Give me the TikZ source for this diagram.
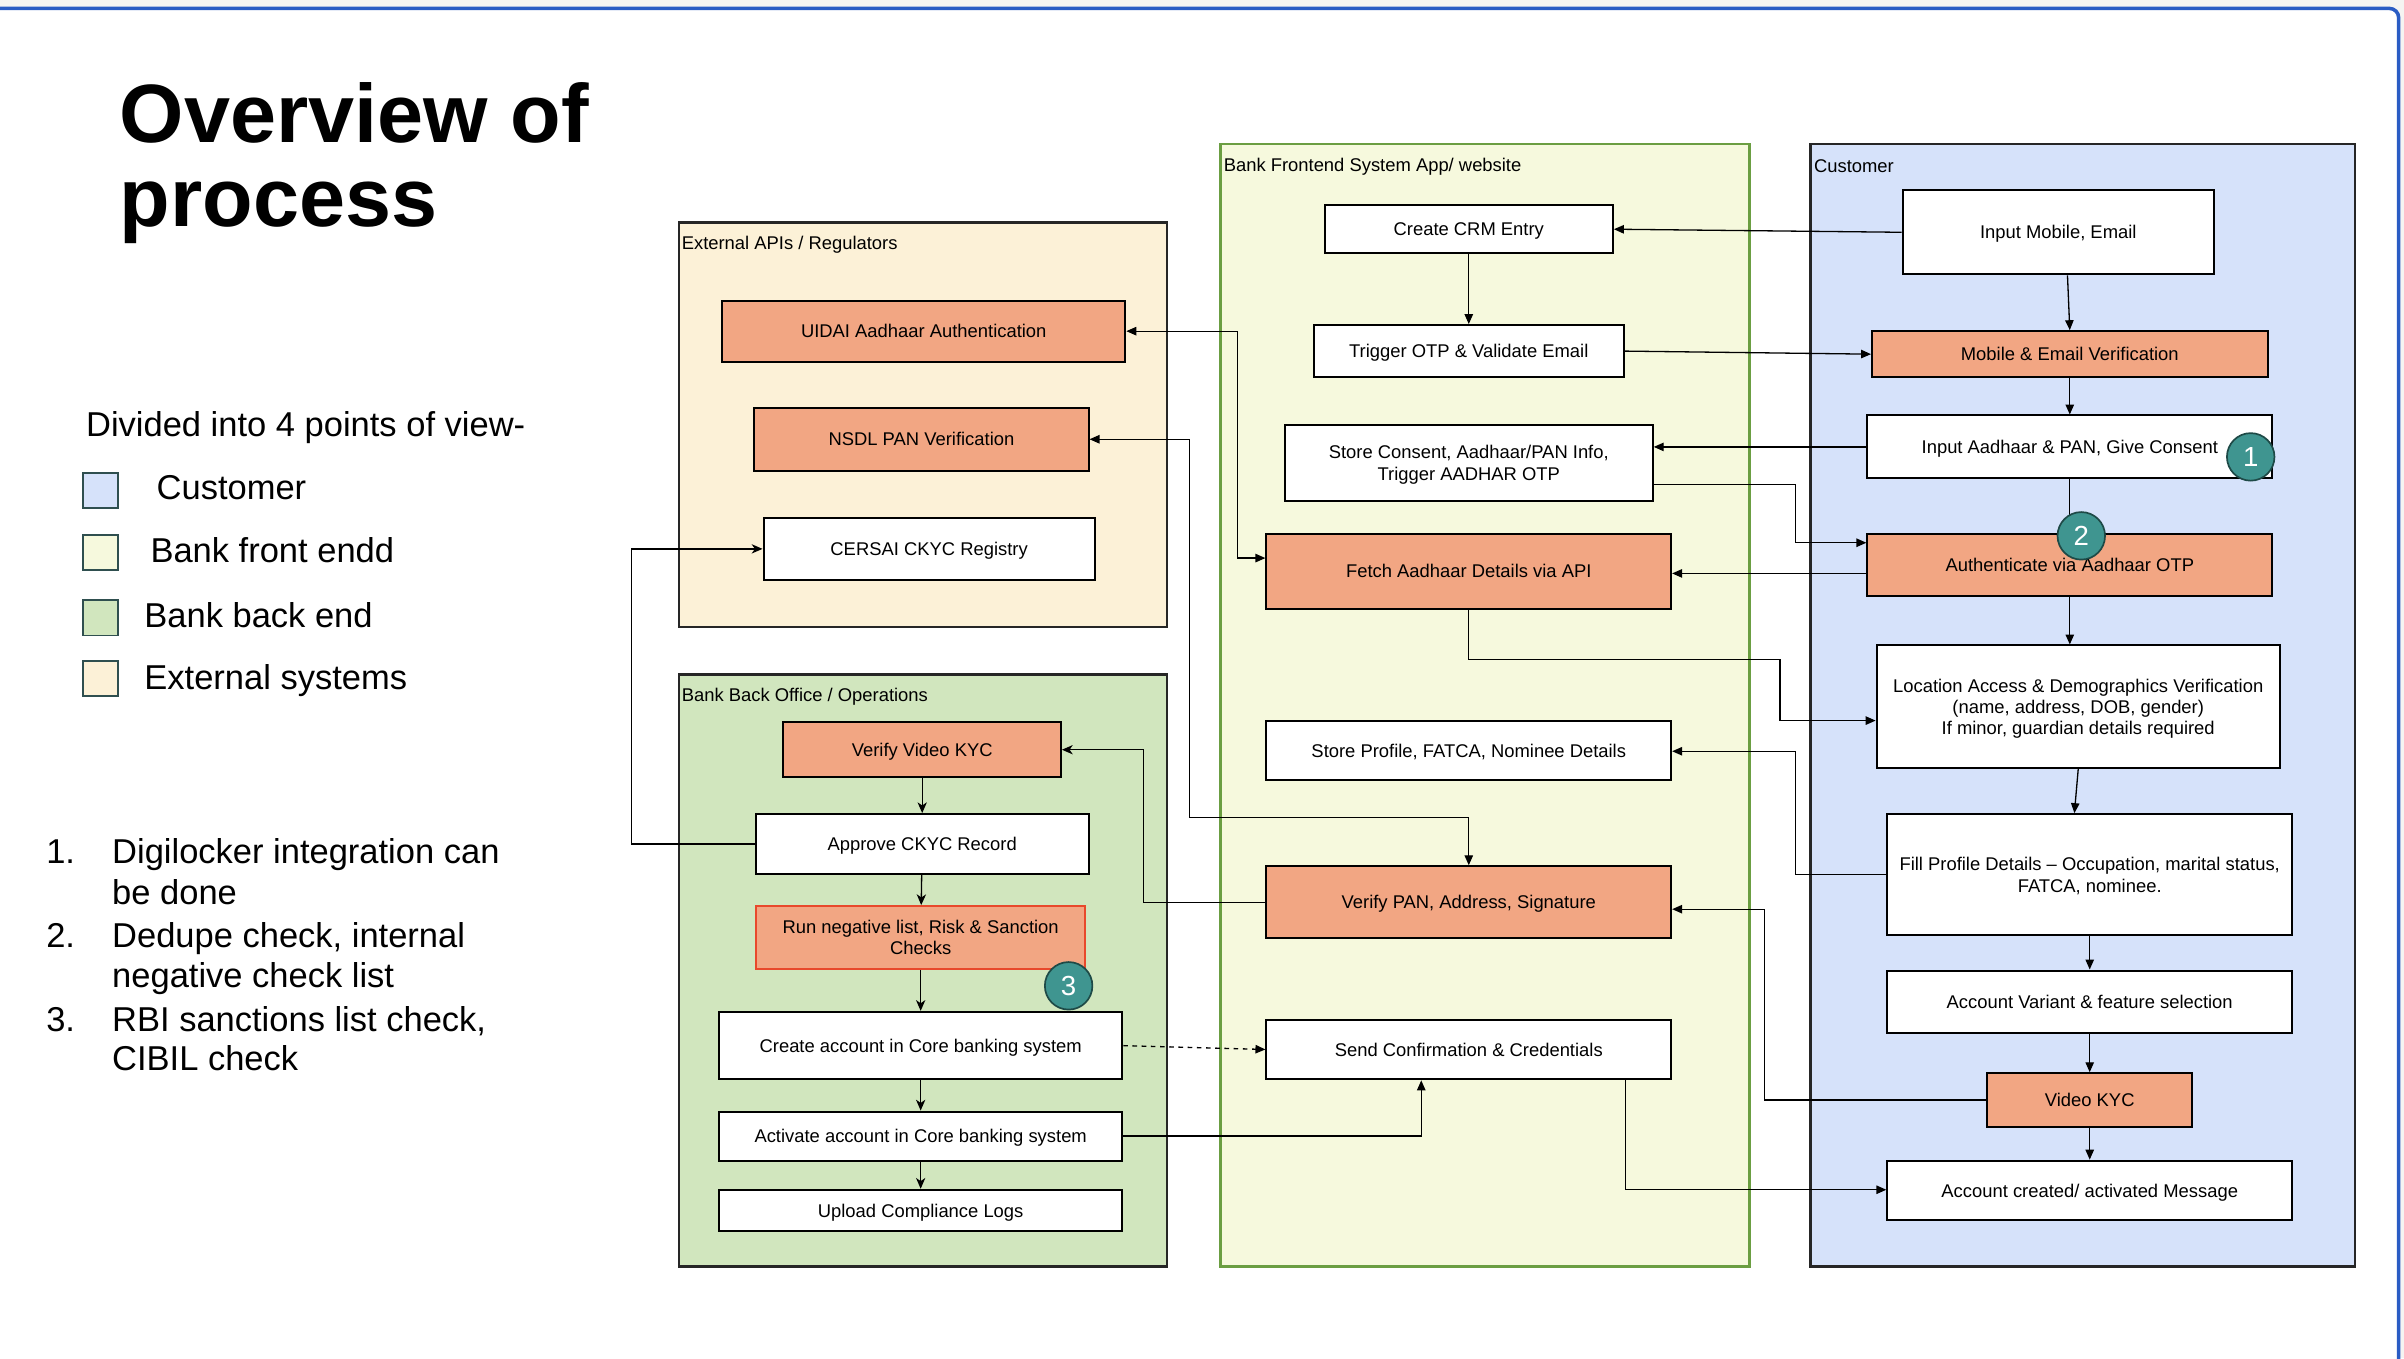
\documentclass[tikz,border=0pt]{standalone}
\usepackage{fontspec}
\setmainfont{Liberation Sans}
\usetikzlibrary{arrows.meta,calc}
\definecolor{salmon}{HTML}{F2A683}
\definecolor{redline}{HTML}{E8492B}
\definecolor{custblue}{HTML}{D6E2FA}
\definecolor{frontfill}{HTML}{F6F9DD}
\definecolor{frontline}{HTML}{6B9E42}
\definecolor{backfill}{HTML}{D1E6BE}
\definecolor{extfill}{HTML}{FCF1D7}
\definecolor{badgefill}{HTML}{3F9590}
\definecolor{badgeline}{HTML}{1E4A47}
\definecolor{frameblue}{HTML}{2A5CC4}
\definecolor{bandgrey}{HTML}{F5F4F2}
\definecolor{legline}{HTML}{2F4F4F}
\newcommand\bx[7]{\node[#6, minimum width={(#4-#2)*1pt}, minimum height={(#5-#3)*1pt}] (#1) at ({(#2+#4)/2},{(#3+#5)/2}) {#7};}
\begin{document}
\begin{tikzpicture}[x=1pt,y=-1pt,
  box/.style={draw=black, line width=1.3pt, fill=white, inner sep=1pt, align=center, text depth=0pt, font=\fontsize{12}{14}\selectfont},
  sbox/.style={box, fill=salmon},
  lane/.style={draw=black!85, line width=1.6pt},
  lanelabel/.style={anchor=west, inner sep=0, font=\fontsize{12}{14}\selectfont},
  arr/.style={draw=black, line width=0.85pt, -{Triangle[length=6.5pt,width=5.5pt]}},
  biarr/.style={draw=black, line width=0.85pt, {Triangle[length=6.5pt,width=5.5pt]}-{Triangle[length=6.5pt,width=5.5pt]}},
  carr/.style={draw=black, line width=0.85pt, -{Stealth[length=7pt,width=6pt,inset=2pt]}},
  badge/.style={circle, fill=badgefill, draw=badgeline, line width=1.1pt, minimum size=31pt, inner sep=0, text=white, font=\fontsize{18}{18}\selectfont},
  legsq/.style={draw=legline, line width=1.2pt, minimum size=23pt, inner sep=0},
  bigtxt/.style={anchor=base west, inner sep=0, font=\fontsize{22.5}{27}\selectfont}
]
\useasboundingbox (0,0) rectangle (1568,886);
\fill[bandgrey] (0,0) rectangle (1568,886);
\path[fill=white, draw=frameblue, line width=2.3pt, rounded corners=6pt] (-20,5.5) rectangle (1564.5,920);

% title
\node[anchor=base west, inner sep=0, font=\bfseries\fontsize{54}{54}\selectfont] (title1) at (78,93) {Overview of};
\node[anchor=base west, inner sep=0, font=\bfseries\fontsize{54}{54}\selectfont] (title2) at (78,148) {process};

% legend
\node[bigtxt] (legt) at (56,284.5) {Divided into 4 points of view-};
\node[legsq, fill=custblue] (lq1) at (65.5,320) {};
\node[legsq, fill=frontfill] (lq2) at (65.5,360.5) {};
\node[legsq, fill=backfill] (lq3) at (65.5,403) {};
\node[legsq, fill=extfill] (lq4) at (65.5,442.5) {};
\node[bigtxt] (l1) at (102,326) {Customer};
\node[bigtxt] (l2) at (98,367) {Bank front endd};
\node[bigtxt] (l3) at (94,409) {Bank back end};
\node[bigtxt] (l4) at (94,450) {External systems};

% notes
\node[bigtxt] (n1) at (30,563) {1.};
\node[bigtxt] (n1a) at (73,563) {Digilocker integration can};
\node[bigtxt] (n1b) at (73,590) {be done};
\node[bigtxt] (n2) at (30,618) {2.};
\node[bigtxt] (n2a) at (73,618) {Dedupe check, internal};
\node[bigtxt] (n2b) at (73,644) {negative check list};
\node[bigtxt] (n3) at (30,672.5) {3.};
\node[bigtxt] (n3a) at (73,672.5) {RBI sanctions list check,};
\node[bigtxt] (n3b) at (73,698.5) {CIBIL check};

% lanes
\draw[lane, fill=extfill] (443,145) rectangle (761,409);
\draw[lane, fill=backfill] (443,440) rectangle (761,826);
\draw[draw=frontline, line width=1.6pt, fill=frontfill] (796,94) rectangle (1141,826);
\draw[lane, fill=custblue] (1181,94) rectangle (1536,826);
\node[lanelabel] (lext) at (444.5,159.5) {External APIs / Regulators};
\node[lanelabel] (lback) at (444.5,454.5) {Bank Back Office / Operations};
\node[lanelabel] (lfront) at (798,108.5) {Bank Frontend System App/ website};
\node[lanelabel] (lcust) at (1183,108.5) {Customer};

% external
\bx{uidai}{471}{196}{734}{236}{sbox}{UIDAI Aadhaar Authentication}
\bx{nsdl}{492}{266}{710}{307}{sbox}{NSDL PAN Verification}
\bx{cersai}{498}{338}{714}{378}{box}{CERSAI CKYC Registry}

% back office
\bx{vvkyc}{511}{471}{692}{507}{sbox}{Verify Video KYC}
\bx{appr}{493}{531}{710}{570}{box}{Approve CKYC Record}
\bx{neg}{493}{591}{708}{632}{sbox, draw=redline}{Run negative list, Risk \& Sanction\\Checks}
\bx{create}{469}{660}{732}{704}{box}{Create account in Core banking system}
\bx{act}{469}{725}{732}{757}{box}{Activate account in Core banking system}
\bx{upl}{469}{776}{732}{803}{box}{Upload Compliance Logs}

% frontend
\bx{crm}{864}{134}{1052}{165}{box}{Create CRM Entry}
\bx{otp}{857}{212}{1059}{246}{box}{Trigger OTP \& Validate Email}
\bx{consent}{838}{277}{1078}{327}{box}{Store Consent, Aadhaar/PAN Info,\\Trigger AADHAR OTP}
\bx{fetch}{826}{348}{1090}{397}{sbox}{Fetch Aadhaar Details via API}
\bx{prof}{826}{470}{1090}{509}{box}{Store Profile, FATCA, Nominee Details}
\bx{vpan}{826}{565}{1090}{612}{sbox}{Verify PAN, Address, Signature}
\bx{send}{826}{665}{1090}{704}{box}{Send Confirmation \& Credentials}

% customer
\bx{inmob}{1241}{124}{1444}{179}{box}{Input Mobile, Email}
\bx{mobver}{1221}{216}{1479}{246}{sbox}{Mobile \& Email Verification}
\bx{inaad}{1218}{271}{1482}{312}{box}{Input Aadhaar \& PAN, Give Consent}
\bx{auth}{1218}{348}{1482}{389}{sbox}{Authenticate via Aadhaar OTP}
\bx{loc}{1224}{421}{1487}{501}{box}{Location Access \& Demographics Verification\\(name, address, DOB, gender)\\If minor, guardian details required}
\bx{fill}{1231}{531}{1495}{610}{box}{Fill Profile Details – Occupation, marital status,\\FATCA, nominee.}
\bx{var}{1231}{633}{1495}{674}{box}{Account Variant \& feature selection}
\bx{vkyc}{1296}{700}{1430}{735}{sbox}{Video KYC}
\bx{acc}{1231}{757}{1495}{796}{box}{Account created/ activated Message}

% connectors customer / frontend
\draw[arr] (inmob.west) -- (crm.east);
\draw[arr] (inmob.south -| 1348.5,0) -- (mobver.north -| 1350,0);
\draw[arr] (crm) -- (otp);
\draw[arr] (otp.east) -- (mobver.west);
\draw[arr] (mobver) -- (inaad);
\draw[arr] (inaad.west) -- (inaad.west -| consent.east);
\draw[arr] (consent.east |- 0,316) -| (1171,354) -- (auth.west |- 0,354);
\draw[arr] (inaad) -- (auth);
\draw[arr] (auth.west |- 0,374) -- (fetch.east |- 0,374);
\draw[biarr] (uidai.east) -- (807,216) -- (807,364) -- (fetch.west |- 0,364);
\draw[arr] (fetch.south) -- (958,430) -| (1161,470) -- (loc.west |- 0,470);
\draw[arr] (auth.south) -- (auth.south |- loc.north);
\draw[arr] (loc.south) -- (fill.north -| 1353,0);
\draw[arr] (fill.west) -- (1171,570.5) -- (1171,490) -- (prof.east |- 0,490);
\draw[arr] (fill) -- (var);
\draw[arr] (var) -- (vkyc);
\draw[arr] (vkyc.west) -- (1151,717.5) -- (1151,593) -- (vpan.east |- 0,593);
\draw[carr] (vpan.west) -- (746,588.5) -- (746,489) -- (vvkyc.east);
\draw[biarr] (nsdl.east) -- (776,286.5) -- (776,533) -- (958,533) -- (vpan.north);
\draw[carr] (appr.west) -- (412,550.5) -- (412,358) -- (cersai.west);
\draw[carr] (vvkyc) -- (appr);
\draw[carr] (appr) -- (neg);
\draw[carr] (neg) -- (create);
\draw[arr, dashed, dash pattern=on 3pt off 3pt] (create.east) -- (send.west);
\draw[carr] (create) -- (act);
\draw[carr] (act) -- (upl);
\draw[arr] (act.east) -- (927,741) -- (send.south -| 927,0);
\draw[arr] (send.south -| 1060,0) -- (1060,776) -- (acc.west |- 0,776);
\draw[arr] (vkyc) -- (acc);

% badges
\node[badge] (b1) at (1468,298) {1};
\node[badge] (b2) at (1357.5,349.5) {2};
\node[badge] (b3) at (697,643) {3};
\end{tikzpicture}
\end{document}
